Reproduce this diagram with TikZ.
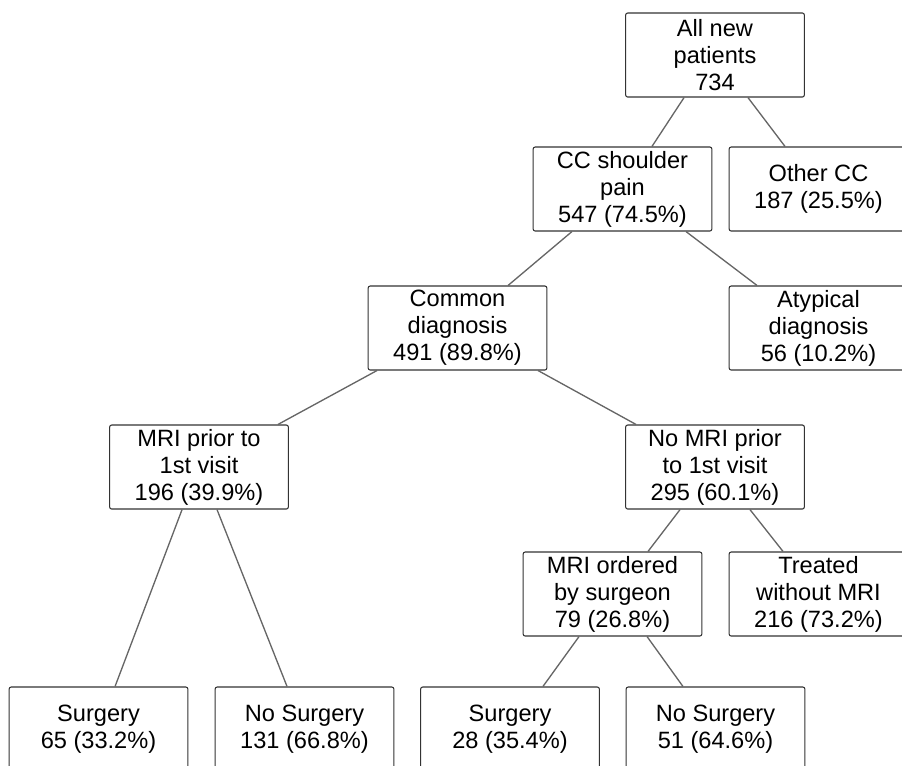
\documentclass[tikz,border=0pt]{standalone}
\usepackage{fontspec}
\setmainfont{Liberation Sans}

\tikzset{
  box/.style={
    draw=black!80, line width=0.8pt, rounded corners=1.5pt, fill=white,
    minimum width=134pt, minimum height=63pt, inner sep=0pt,
    align=center, font=\fontsize{17.7}{20.3}\selectfont
  },
  link/.style={draw=black!60, line width=1pt},
}

\begin{document}
\begin{tikzpicture}[x=0.75pt, y=-0.75pt]
  \clip (0,0) rectangle (902,765);

  % boxes
  \node (all new) [box] at (715,55) {All new\\patients\\734};
  \node (cc shoulder) [box] at (622.5,189) {CC shoulder\\pain\\547 (74.5\%)};
  \node (other cc) [box] at (818.5,189) {Other CC\\187 (25.5\%)};
  \node (common) [box] at (457.5,328) {Common\\diagnosis\\491 (89.8\%)};
  \node (atypical) [box] at (818.5,328) {Atypical\\diagnosis\\56 (10.2\%)};
  \node (mri prior) [box] at (199,467) {MRI prior to\\1st visit\\196 (39.9\%)};
  \node (no mri) [box] at (715,467) {No MRI prior\\to 1st visit\\295 (60.1\%)};
  \node (mri ordered) [box] at (612.5,594) {MRI ordered\\by surgeon\\79 (26.8\%)};
  \node (treated) [box] at (818.5,594) {Treated\\without MRI\\216 (73.2\%)};
  \node (surgery left) [box] at (98.5,729) {Surgery\\65 (33.2\%)};
  \node (no surgery left) [box] at (304.5,729) {No Surgery\\131 (66.8\%)};
  \node (surgery right) [box] at (510,729) {Surgery\\28 (35.4\%)};
  \node (no surgery right) [box] at (715.5,729) {No Surgery\\51 (64.6\%)};

  % links
  \draw [link] ([xshift=-23.2pt]all new.south) -- ([xshift=22.1pt]cc shoulder.north);
  \draw [link] ([xshift=24.7pt]all new.south) -- ([xshift=-25.1pt]other cc.north);
  \draw [link] ([xshift=-37.9pt]cc shoulder.south) -- ([xshift=37.9pt]common.north);
  \draw [link] ([xshift=47.6pt]cc shoulder.south) -- ([xshift=-46.1pt]atypical.north);
  \draw [link] ([xshift=-60.4pt]common.south) -- ([xshift=59.2pt]mri prior.north);
  \draw [link] ([xshift=60.4pt]common.south) -- ([xshift=-59.2pt]no mri.north);
  \draw [link] ([xshift=-12.7pt]mri prior.south) -- ([xshift=12.4pt]surgery left.north);
  \draw [link] ([xshift=13.5pt]mri prior.south) -- ([xshift=-13.1pt]no surgery left.north);
  \draw [link] ([xshift=-26.2pt]no mri.south) -- ([xshift=26.6pt]mri ordered.north);
  \draw [link] ([xshift=26.2pt]no mri.south) -- ([xshift=-26.6pt]treated.north);
  \draw [link] ([xshift=-25.1pt]mri ordered.south) -- ([xshift=24.7pt]surgery right.north);
  \draw [link] ([xshift=25.9pt]mri ordered.south) -- ([xshift=-24.4pt]no surgery right.north);
\end{tikzpicture}
\end{document}
